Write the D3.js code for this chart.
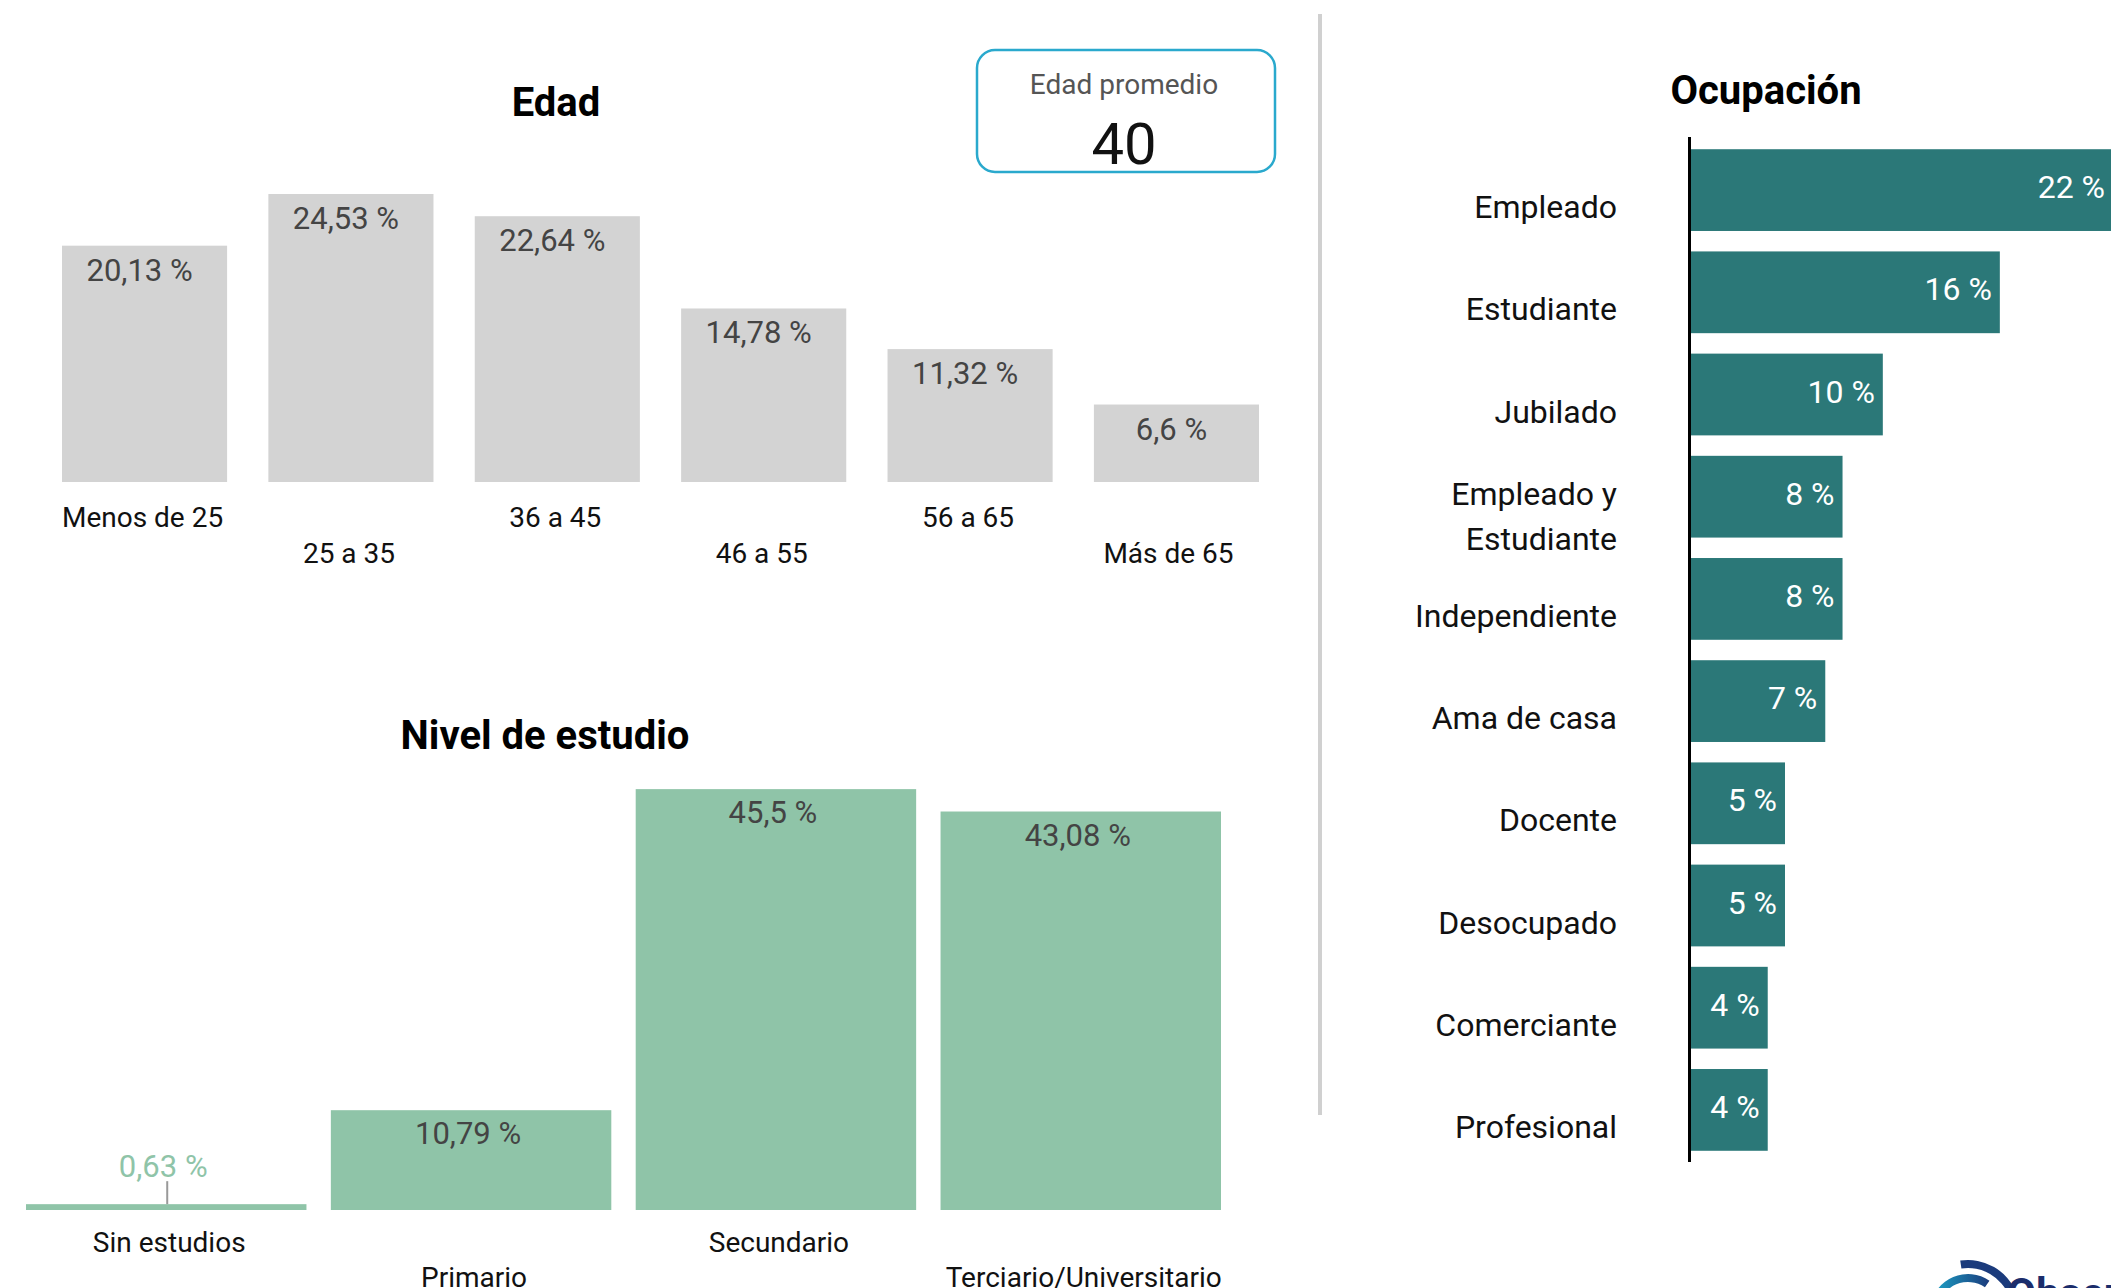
<!DOCTYPE html>
<html lang="es">
<meta charset="utf-8">
<style>
  body {
    margin: 0;
    background: #fff;
    font-family: 'Roboto', 'Open Sans', sans-serif;
    overflow: hidden;
  }
  .title { font-weight: 700; fill: #000; font-size: 40px; }
  .val { fill: #444; font-size: 31px; }
  .cat { fill: #111; font-size: 28px; }
  .ocup { fill: #111; font-size: 32px; }
</style>
<body>
<div id="chart"></div>
<script src="https://d3js.org/d3.v7.min.js"></script>
<script>

// data
var edadCats = ["Menos de 25", "25 a 35", "36 a 45", "46 a 55", "56 a 65", "Más de 65"];
var edadVals = [20.13, 24.53, 22.64, 14.78, 11.32, 6.6];
var edadPromedio = 40;

var nivelCats = ["Sin estudios", "Primario", "Secundario", "Terciario/Universitario"];
var nivelVals = [0.63, 10.79, 45.5, 43.08];

var ocupCats = ["Empleado", "Estudiante", "Jubilado", "Empleado y Estudiante", "Independiente",
                "Ama de casa", "Docente", "Desocupado", "Comerciante", "Profesional"];
var ocupVals = [22, 16.1, 10, 7.9, 7.9, 7, 4.9, 4.9, 4, 4];

var width = 2111,
    height = 1288;

var svg = d3.select("#chart").append("svg")
    .attr("width", width)
    .attr("height", height);

// gradient for the baselines (black -> light grey)
var defs = svg.append("defs");
var grad = defs.append("linearGradient").attr("id", "baseGrad");
grad.append("stop").attr("offset", "0%").attr("stop-color", "#000");
grad.append("stop").attr("offset", "55%").attr("stop-color", "#333");
grad.append("stop").attr("offset", "100%").attr("stop-color", "#e6e6e6");

var logoGrad = defs.append("linearGradient").attr("id", "logoGrad");
logoGrad.append("stop").attr("offset", "0%").attr("stop-color", "#1ca6c9");
logoGrad.append("stop").attr("offset", "100%").attr("stop-color", "#1b3b7c");

function fmt(v) { return String(v).replace(".", ",") + " %"; }

// ---------- Edad ----------
var xE = d3.scaleBand().domain(edadCats).range([62, 1259]).paddingInner(0.2);
var yE = d3.scaleLinear().domain([0, 25]).range([482, 188.5]);

svg.append("text").attr("class", "title")
    .attr("x", 556).attr("y", 102)
    .attr("text-anchor", "middle").attr("dominant-baseline", "central")
    .text("Edad");

var gE = svg.append("g");
gE.selectAll("rect")
    .data(edadVals)
  .enter().append("rect")
    .attr("x", function(d, i) { return xE(edadCats[i]); })
    .attr("y", function(d) { return yE(d); })
    .attr("width", xE.bandwidth())
    .attr("height", function(d) { return yE(0) - yE(d); })
    .attr("fill", "#d3d3d3");

gE.append("line")
    .attr("x1", 40).attr("x2", 1262)
    .attr("y1", yE(0) + 0.5).attr("y2", yE(0) + 0.5)
    .attr("stroke", "url(#baseGrad)").attr("stroke-width", 2);

gE.selectAll("text.val")
    .data(edadVals)
  .enter().append("text")
    .attr("class", "val")
    .attr("x", function(d, i) { return xE(edadCats[i]) + xE.bandwidth() / 2 - 5; })
    .attr("y", function(d) { return yE(d) + 35; })
    .attr("text-anchor", "middle")
    .text(fmt);

gE.selectAll("text.cat")
    .data(edadCats)
  .enter().append("text")
    .attr("class", "cat")
    .attr("x", function(d, i) { return xE(d) + xE.bandwidth() / 2 - (i === 5 ? 8 : 2); })
    .attr("y", function(d, i) { return i % 2 ? 553 : 517; })
    .attr("text-anchor", "middle").attr("dominant-baseline", "central")
    .text(function(d) { return d; });

// edad promedio box
svg.append("rect")
    .attr("x", 977).attr("y", 50).attr("width", 298).attr("height", 122)
    .attr("rx", 18)
    .attr("fill", "#fff").attr("stroke", "#2aa9cd").attr("stroke-width", 2.5);
svg.append("text")
    .attr("x", 1124).attr("y", 84)
    .attr("text-anchor", "middle").attr("dominant-baseline", "central")
    .attr("fill", "#555").style("font-size", "28px")
    .text("Edad promedio");
svg.append("text")
    .attr("x", 1124).attr("y", 144)
    .attr("text-anchor", "middle").attr("dominant-baseline", "central")
    .attr("fill", "#111").style("font-size", "58px")
    .text(edadPromedio);

// ---------- Nivel de estudio ----------
var xN = d3.scaleBand().domain(nivelCats).range([26, 1221]).paddingInner(0.08);
var yN = d3.scaleLinear().domain([0, 50]).range([1210, 747.5]);

svg.append("text").attr("class", "title")
    .attr("x", 545).attr("y", 735)
    .attr("text-anchor", "middle").attr("dominant-baseline", "central")
    .text("Nivel de estudio");

var gN = svg.append("g");
gN.selectAll("rect")
    .data(nivelVals)
  .enter().append("rect")
    .attr("x", function(d, i) { return xN(nivelCats[i]); })
    .attr("y", function(d) { return yN(d); })
    .attr("width", xN.bandwidth())
    .attr("height", function(d) { return yN(0) - yN(d); })
    .attr("fill", "#8fc4a8");

gN.append("line")
    .attr("x1", 11).attr("x2", 1224)
    .attr("y1", yN(0) + 0.5).attr("y2", yN(0) + 0.5)
    .attr("stroke", "url(#baseGrad)").attr("stroke-width", 2);

gN.selectAll("text.val")
    .data(nivelVals)
  .enter().append("text")
    .attr("class", "val")
    .attr("x", function(d, i) { return xN(nivelCats[i]) + xN.bandwidth() / 2 - 3; })
    .attr("y", function(d) { return d < 3 ? yN(d) - 27 : yN(d) + 34; })
    .attr("text-anchor", "middle")
    .style("fill", function(d) { return d < 3 ? "#8fc4a8" : null; })
    .text(fmt);

// leader line for the tiny bar
nivelVals.forEach(function(d, i) {
  if (d < 3) {
    var cx = xN(nivelCats[i]) + xN.bandwidth() / 2 + 1;
    gN.append("line")
        .attr("x1", cx).attr("x2", cx)
        .attr("y1", yN(d) - 23).attr("y2", yN(d))
        .attr("stroke", "#999").attr("stroke-width", 2);
  }
});

gN.selectAll("text.cat")
    .data(nivelCats)
  .enter().append("text")
    .attr("class", "cat")
    .attr("x", function(d) { return xN(d) + xN.bandwidth() / 2 + 3; })
    .attr("y", function(d, i) { return i % 2 ? 1277 : 1242; })
    .attr("text-anchor", "middle").attr("dominant-baseline", "central")
    .text(function(d) { return d; });

// separator
svg.append("line")
    .attr("x1", 1320).attr("x2", 1320)
    .attr("y1", 14).attr("y2", 1115)
    .attr("stroke", "#d0d0d0").attr("stroke-width", 4);

// ---------- Ocupacion ----------
var yO = d3.scaleBand().domain(ocupCats).range([139, 1161]).paddingInner(0.2).paddingOuter(0.1);
var xO = d3.scaleLinear().domain([0, 22]).range([1691, 2113]);

svg.append("text").attr("class", "title")
    .attr("x", 1766).attr("y", 90)
    .attr("text-anchor", "middle").attr("dominant-baseline", "central")
    .text("Ocupación");

var gO = svg.append("g");
gO.selectAll("rect")
    .data(ocupVals)
  .enter().append("rect")
    .attr("x", xO(0))
    .attr("y", function(d, i) { return yO(ocupCats[i]); })
    .attr("width", function(d) { return xO(d) - xO(0); })
    .attr("height", yO.bandwidth())
    .attr("fill", "#2b7878");

gO.selectAll("text.val")
    .data(ocupVals)
  .enter().append("text")
    .attr("x", function(d) { return xO(d) - 8; })
    .attr("y", function(d, i) { return yO(ocupCats[i]) + yO.bandwidth() / 2 - 3; })
    .attr("text-anchor", "end").attr("dominant-baseline", "central")
    .attr("fill", "#fff").style("font-size", "32px")
    .text(function(d) { return Math.round(d) + " %"; });

gO.append("line")
    .attr("x1", 1689.5).attr("x2", 1689.5)
    .attr("y1", 137).attr("y2", 1162)
    .attr("stroke", "#000").attr("stroke-width", 3);

ocupCats.forEach(function(c) {
  var cy = yO(c) + yO.bandwidth() / 2;
  var t = gO.append("text").attr("class", "ocup")
      .attr("x", 1617)
      .attr("text-anchor", "end").attr("dominant-baseline", "central");
  if (c === "Empleado y Estudiante") {
    t.append("tspan").attr("x", 1617).attr("y", cy - 3).text("Empleado y");
    t.append("tspan").attr("x", 1617).attr("y", cy + 42).text("Estudiante");
  } else {
    t.attr("y", cy + 17).text(c);
  }
});

// ---------- logo (cut off at the bottom right) ----------
var logo = svg.append("g").attr("transform", "translate(1968,1312)");
var arc = d3.arc();
logo.append("path")
    .attr("d", arc({ innerRadius: 44, outerRadius: 52, startAngle: -0.15, endAngle: 1.2 }))
    .attr("fill", "#1b3b7c");
logo.append("path")
    .attr("d", arc({ innerRadius: 30, outerRadius: 38, startAngle: -1.4, endAngle: 0.6 }))
    .attr("fill", "url(#logoGrad)");
logo.append("path")
    .attr("d", arc({ innerRadius: 16, outerRadius: 24, startAngle: -1.6, endAngle: -0.2 }))
    .attr("fill", "#1ca6c9");
svg.append("text")
    .attr("x", 2007).attr("y", 1308)
    .attr("fill", "#1b2d6b")
    .style("font-size", "42px").style("font-weight", "700")
    .text("Observatorio");

</script>
</body>
</html>
